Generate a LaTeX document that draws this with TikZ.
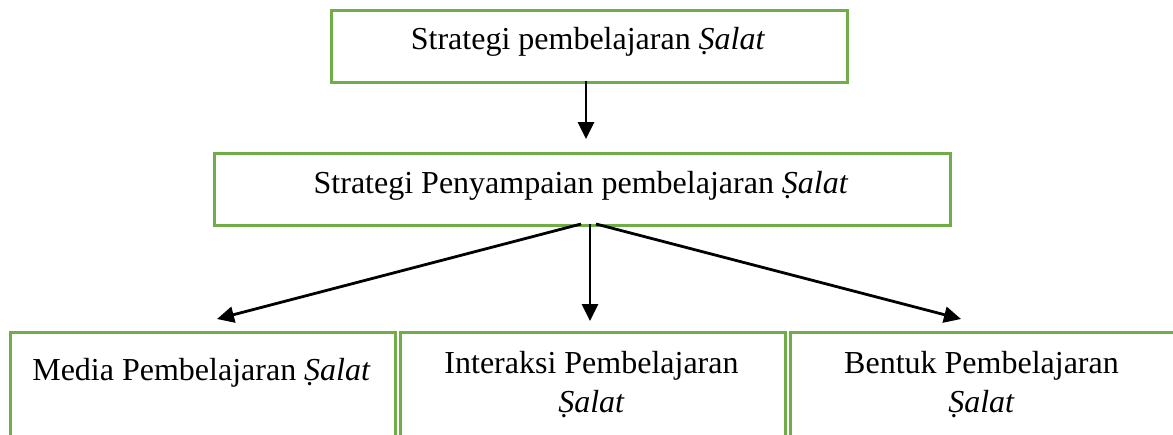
\documentclass[tikz,border=0pt]{standalone}
\usepackage{fontspec}
\setmainfont{Liberation Serif}
\usetikzlibrary{arrows.meta}
\definecolor{boxgreen}{RGB}{112,173,71}
\tikzset{
  box/.style={draw=boxgreen, line width=3.2pt, fill=white, rectangle, inner sep=0pt},
  txt/.style={font=\fontsize{32}{39}\selectfont, align=center, inner sep=0pt},
  conn/.style={line width=2.8pt, -{Triangle[length=17pt,width=16pt]}}
}
\begin{document}
\begin{tikzpicture}[x=1pt,y=1pt]
\useasboundingbox (0,0) rectangle (1173,-434);
\clip (0,0) rectangle (1173,-434);
% boxes
\node[box, minimum width=516, minimum height=72, anchor=north west] (top) at (330,-8.5) {};
\node[box, minimum width=736, minimum height=72, anchor=north west] (mid) at (213,-151.5) {};
\node[box, minimum width=385, minimum height=140, anchor=north west] (b1) at (9,-331) {};
\node[box, minimum width=385, minimum height=140, anchor=north west] (b2) at (399,-331) {};
\node[box, minimum width=385, minimum height=140, anchor=north west] (b3) at (789,-331) {};
% texts
\node[txt] (toptxt) at (588,-42) {Strategi pembelajaran \textit{Ṣalat}};
\node[txt] (midtxt) at (581,-186) {Strategi Penyampaian pembelajaran \textit{Ṣalat}};
\node[txt] (b1txt) at (201.5,-373) {Media Pembelajaran \textit{Ṣalat}};
\node[txt] (b2txt) at (591.5,-385) {Interaksi Pembelajaran\\\textit{Ṣalat}};
\node[txt] (b3txt) at (981.5,-385) {Bentuk Pembelajaran\\\textit{Ṣalat}};
% connector ends
\coordinate (s0) at (586,-81);
\coordinate (e0) at (586,-139);
\coordinate (s1) at (581,-224);
\coordinate (s2) at (590,-224);
\coordinate (s3) at (596,-224);
\coordinate (e1) at (217,-319);
\coordinate (e2) at (590,-321);
\coordinate (e3) at (961,-319);
\draw[conn] (s0) -- (e0);
\draw[conn] (s1) -- (e1);
\draw[conn] (s2) -- (e2);
\draw[conn] (s3) -- (e3);
\end{tikzpicture}
\end{document}
